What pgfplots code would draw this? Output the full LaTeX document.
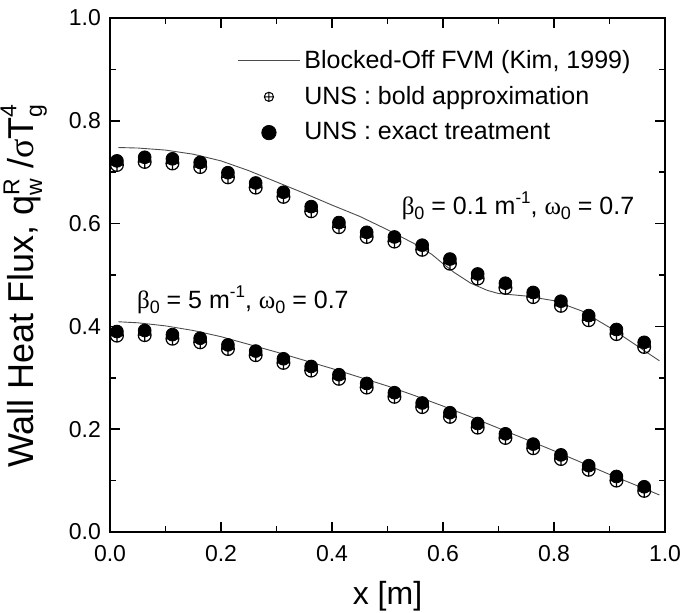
\documentclass[border=0pt]{standalone}
\usepackage{fontspec}
\setmainfont{Liberation Sans}
\newfontfamily\grk{Liberation Serif}
\usepackage{pgfplots}
\pgfplotsset{compat=1.18}
\newcommand\sub[1]{\raisebox{-0.35ex}{\fontsize{9}{10}\selectfont #1}}
\newcommand\sups[1]{\raisebox{0.85ex}{\fontsize{8.5}{9}\selectfont #1}}
\newcommand\smx[1]{{\fontsize{11.5}{12}\selectfont #1}}
\begin{document}
\begin{tikzpicture}
\begin{axis}[
  scale only axis, width=277.5pt, height=257pt,
  xmin=0, xmax=1, ymin=0, ymax=1,
  xtick={0,0.2,...,1.0}, ytick={0,0.2,...,1.0},
  minor x tick num=1, minor y tick num=1,
  tick align=inside, major tick length=5pt, minor tick length=3pt,
  tick style={black, line width=0.8pt},
  axis line style={line width=1.2pt},
  xticklabel style={/pgf/number format/.cd, fixed, fixed zerofill, precision=1, /tikz/.cd, yshift=-3pt},
  yticklabel style={/pgf/number format/.cd, fixed, fixed zerofill, precision=1, /tikz/.cd, xshift=-1pt},
  /pgf/number format/assume math mode=true,
  tick label style={font=\fontsize{11.5}{13}\selectfont},
  xlabel={x [m]},
  xlabel style={font=\fontsize{16}{18}\selectfont, yshift=-3pt},
  ylabel={Wall Heat Flux, q\rlap{\raisebox{0.75ex}{\smx{R}}}\raisebox{-0.45ex}{\smx{w}} /{\grk σ}T\rlap{\raisebox{0.9ex}{\smx{4}}}\raisebox{-0.45ex}{\smx{g}}},
  ylabel style={font=\fontsize{18}{20}\selectfont, at={([xshift=-28pt, yshift=-5.5pt]axis description cs:0,0.5)}, anchor=south},
  legend style={draw=none, fill=none, at={(0.229,0.946)}, anchor=north west,
    font=\fontsize{12.5}{14}\selectfont, row sep=3.5pt, inner sep=0pt},
  legend cell align=left,
]
% Blocked-off FVM lines
\addplot[gray!60!black, line width=0.45pt, forget plot] coordinates {
(0.015,0.748)(0.05,0.747)(0.1,0.743)(0.15,0.735)(0.2,0.722)(0.25,0.703)(0.3,0.681)(0.35,0.659)(0.4,0.636)(0.45,0.614)(0.5,0.588)(0.55,0.560)(0.58,0.540)(0.6,0.522)(0.62,0.505)(0.65,0.484)(0.68,0.470)(0.7,0.464)(0.75,0.459)(0.8,0.450)(0.85,0.430)(0.9,0.398)(0.95,0.362)(0.99,0.333)};
\addplot[gray!60!black, line width=0.45pt, forget plot] coordinates {
(0.015,0.409)(0.05,0.407)(0.1,0.401)(0.15,0.392)(0.2,0.380)(0.25,0.365)(0.3,0.350)(0.35,0.334)(0.4,0.318)(0.45,0.301)(0.5,0.284)(0.55,0.265)(0.6,0.245)(0.65,0.224)(0.7,0.202)(0.75,0.180)(0.8,0.158)(0.85,0.135)(0.9,0.112)(0.95,0.090)(0.99,0.072)};
% bold approximation
\addplot[only marks, mark=oplus, mark size=3.2pt, mark options={fill=white, draw=black, line width=0.6pt}, forget plot] coordinates {
(0.0125,0.714)(0.0625,0.720)(0.1125,0.717)(0.1625,0.710)(0.2125,0.690)(0.2625,0.670)(0.3125,0.652)(0.3625,0.624)(0.4125,0.593)(0.4625,0.574)(0.5125,0.565)(0.5625,0.549)(0.6125,0.522)(0.6625,0.493)(0.7125,0.475)(0.7625,0.457)(0.8125,0.440)(0.8625,0.412)(0.9125,0.385)(0.9625,0.360)};
\addplot[only marks, mark=oplus, mark size=3.2pt, mark options={fill=white, draw=black, line width=0.6pt}, forget plot] coordinates {
(0.0125,0.382)(0.0625,0.383)(0.1125,0.376)(0.1625,0.369)(0.2125,0.356)(0.2625,0.344)(0.3125,0.329)(0.3625,0.314)(0.4125,0.298)(0.4625,0.281)(0.5125,0.263)(0.5625,0.243)(0.6125,0.224)(0.6625,0.203)(0.7125,0.183)(0.7625,0.163)(0.8125,0.142)(0.8625,0.121)(0.9125,0.100)(0.9625,0.080)};
% exact treatment
\addplot[only marks, mark=*, mark size=3.2pt, black, forget plot] coordinates {
(0.0125,0.722)(0.0625,0.729)(0.1125,0.726)(0.1625,0.719)(0.2125,0.699)(0.2625,0.679)(0.3125,0.661)(0.3625,0.633)(0.4125,0.602)(0.4625,0.583)(0.5125,0.574)(0.5625,0.558)(0.6125,0.531)(0.6625,0.502)(0.7125,0.484)(0.7625,0.466)(0.8125,0.449)(0.8625,0.421)(0.9125,0.394)(0.9625,0.369)};
\addplot[only marks, mark=*, mark size=3.2pt, black, forget plot] coordinates {
(0.0125,0.390)(0.0625,0.392)(0.1125,0.384)(0.1625,0.377)(0.2125,0.364)(0.2625,0.352)(0.3125,0.337)(0.3625,0.322)(0.4125,0.306)(0.4625,0.289)(0.5125,0.271)(0.5625,0.251)(0.6125,0.232)(0.6625,0.211)(0.7125,0.191)(0.7625,0.171)(0.8125,0.150)(0.8625,0.129)(0.9125,0.108)(0.9625,0.088)};
% legend entries
\addlegendimage{legend image code/.code={\draw[gray!60!black, line width=0.45pt] (0pt,0pt)--(31pt,0pt);}}
\addlegendentry{Blocked-Off FVM (Kim, 1999)}
\addlegendimage{legend image code/.code={\draw[black, line width=0.5pt] (15.5pt,0pt) circle (2.3pt) (13.2pt,0pt)--(17.8pt,0pt) (15.5pt,-2.3pt)--(15.5pt,2.3pt);}}
\addlegendentry{UNS : bold approximation}
\addlegendimage{legend image code/.code={\fill[black] (15.5pt,0pt) circle (3.6pt);}}
\addlegendentry{UNS : exact treatment}
\node[anchor=west, font=\fontsize{12.5}{14}\selectfont, inner sep=0pt] at (axis cs:0.525,0.634) {{\grk β}\sub{0} = 0.1 m\sups{-1}, {\grk ω}\sub{0} = 0.7};
\node[anchor=west, font=\fontsize{12.5}{14}\selectfont, inner sep=0pt] at (axis cs:0.048,0.451) {{\grk β}\sub{0} = 5 m\sups{-1}, {\grk ω}\sub{0} = 0.7};
\end{axis}
\pgfresetboundingbox
\path[use as bounding box] ([xshift=-55pt,yshift=-40.5pt]current axis.south west) rectangle ([xshift=7.5pt,yshift=9pt]current axis.north east);
\end{tikzpicture}
\end{document}
